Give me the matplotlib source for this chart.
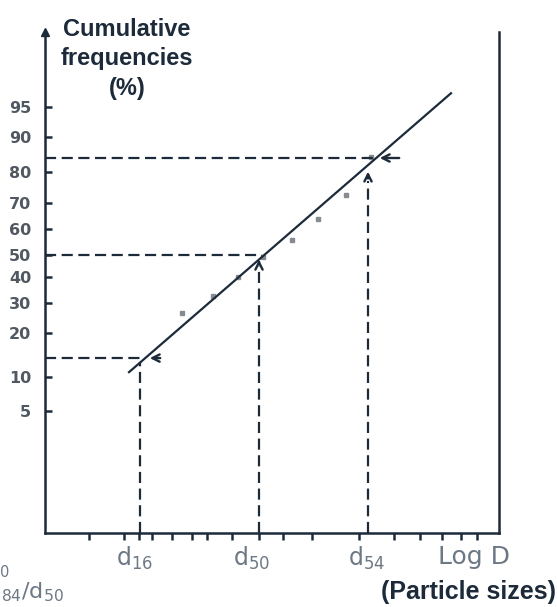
import numpy as np
import matplotlib.pyplot as plt

# probability paper: percent ruler (depth from the bottom axis)
PCT_KNOTS = [0.1, 5, 10, 20, 30, 40, 50, 60, 70, 80, 90, 95, 99.9]
DEPTH_KNOTS = [0, 122, 156, 200, 230, 256, 278, 304, 330, 361, 396, 426, 501]

y_ticks = [5, 10, 20, 30, 40, 50, 60, 70, 80, 90, 95]
x_ticks = [0.44, 0.79, 0.94, 1.07, 1.27, 1.47, 1.62, 1.87, 2.14, 2.38, 2.67,
           3.14, 3.49, 3.75, 3.97, 4.16, 4.32]

# measured points (log D, cumulative %)
pts_logd = [1.37, 1.68, 1.93, 2.18, 2.47, 2.73, 3.01, 3.26]
pts_pct = [26.7, 32.7, 40.0, 49.1, 55.8, 63.8, 72.6, 84.3]

# fitted line end points
line_logd = [0.84, 4.06]
line_pct = [11.1, 95.9]

# d16 / d50 / d84 read-off
d_logd = [0.95, 2.14, 3.23]
d_pct = [14.3, 50.0, 84.0]
d_names = [r"d$_\mathregular{16}$", r"d$_\mathregular{50}$", r"d$_\mathregular{54}$"]
d_label_x = [0.90, 2.07, 3.22]

NAVY = "#1c2a3a"
GREY = "#6d7885"


def fwd(p):
    return np.interp(p, PCT_KNOTS, DEPTH_KNOTS)


def inv(d):
    return np.interp(d, DEPTH_KNOTS, PCT_KNOTS)


fig = plt.figure(figsize=(5.57, 6.07), dpi=100)
ax = fig.add_axes([45 / 557, 74 / 607, 454 / 557, 501 / 607])
ax.set_yscale("function", functions=(fwd, inv))
ax.set_xlim(0, 4.54)
ax.set_ylim(0.1, 99.9)

for s in ["left", "right", "bottom"]:
    ax.spines[s].set_linewidth(1.8)
    ax.spines[s].set_color(NAVY)
ax.spines["top"].set_visible(False)
# arrow on top of the y axis
ax.plot(0, 1, marker="^", ms=6, color=NAVY, transform=ax.transAxes, clip_on=False)

ax.set_yticks(y_ticks)
ax.set_yticklabels([str(v) for v in y_ticks])
ax.yaxis.set_minor_locator(plt.NullLocator())
ax.tick_params(axis="y", direction="in", length=5, width=1.8, color=NAVY, pad=10,
               labelsize=11.5, labelcolor="#505861")
for lab in ax.get_yticklabels():
    lab.set_fontweight("bold")

ax.set_xticks(x_ticks)
ax.set_xticklabels([])
ax.tick_params(axis="x", direction="out", length=5, width=1.8, color=NAVY)

# data points and fitted line
ax.plot(pts_logd, pts_pct, linestyle="none", marker="s", ms=3.5, color="#868b91")
ax.plot(line_logd, line_pct, color=NAVY, lw=1.6)

# dashed read-off lines
dash = dict(color=NAVY, lw=1.6, linestyle=(0, (5, 2.5)))
ax.plot([0, 1.0], [d_pct[0], d_pct[0]], **dash)
ax.plot([0, 2.17], [d_pct[1], d_pct[1]], **dash)
ax.plot([0, 3.28], [d_pct[2], d_pct[2]], **dash)
ax.plot([d_logd[0], d_logd[0]], [0.1, 13.4], **dash)
ax.plot([d_logd[1], d_logd[1]], [0.1, 45], **dash)
ax.plot([d_logd[2], d_logd[2]], [0.1, 77], **dash)

arr = dict(arrowstyle="->", color=NAVY, lw=1.7, mutation_scale=13)
ax.annotate("", xy=(1.02, d_pct[0]), xytext=(1.18, d_pct[0]), arrowprops=arr)
ax.annotate("", xy=(3.32, d_pct[2]), xytext=(3.57, d_pct[2]), arrowprops=arr)
ax.annotate("", xy=(d_logd[1], 49.1), xytext=(d_logd[1], 45), arrowprops=arr)
ax.annotate("", xy=(d_logd[2], 80.9), xytext=(d_logd[2], 77), arrowprops=arr)

# labels under the x axis
xt = ax.get_xaxis_transform()
for xl, name in zip(d_label_x, d_names):
    ax.text(xl, -25 / 501, name, transform=xt, ha="center", va="center",
            fontsize=17, color=GREY)
ax.text(4.29, -24 / 501, "Log D", transform=xt, ha="center", va="center",
        fontsize=18, color=GREY)

# y axis title
for txt, yy in zip(["Cumulative", "frequencies", "(%)"], [30, 58, 89]):
    fig.text(127 / 557, 1 - yy / 607, txt, ha="center", va="center",
             fontsize=17, fontweight="bold", color=NAVY, family="Liberation Sans")

fig.text(468 / 557, 1 - 592 / 607, "(Particle sizes)", ha="center", va="center",
         fontsize=18, fontweight="bold", color=NAVY, family="Liberation Sans")

# note cut off at the left edge, as in the source picture
fig.text(10 / 557, 1 - 568 / 607, r"d$_\mathregular{16}$/d$_\mathregular{50}$",
         ha="right", va="center", fontsize=15, color=GREY)
fig.text(64 / 557, 1 - 592 / 607, r"= d$_\mathregular{84}$/d$_\mathregular{50}$",
         ha="right", va="center", fontsize=16, color=GREY)

fig.savefig("out.png", dpi=100)
